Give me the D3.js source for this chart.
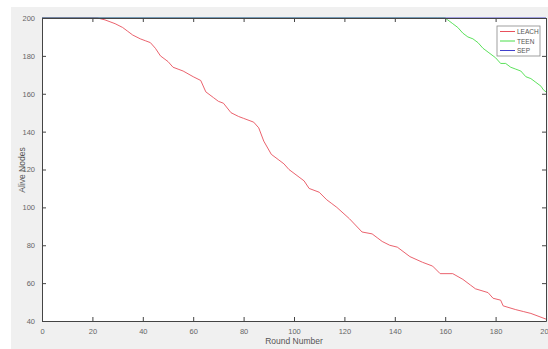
<!DOCTYPE html>
<html>
<head>
<meta charset="utf-8">
<script src="https://cdn.jsdelivr.net/npm/d3@7"></script>
<style>
  body { margin: 0; background: #fff; }
  text { font-family: "Liberation Sans", Arial, sans-serif; }
</style>
</head>
<body>
<div id="viz"></div>
<script>
const width = 548;
const height = 349;
const margin = {top: 18, right: 2, bottom: 28, left: 42};

// Data
const leachRounds = [0, 22, 25, 27, 29, 32, 34, 36, 39, 41, 43, 45, 47, 50, 52, 54, 56, 60, 63, 65, 68, 70, 72, 75, 78, 80, 84, 86, 88, 91, 94, 96, 98, 102, 104, 106, 110, 113, 115, 117, 122, 127, 131, 133, 135, 138, 141, 146, 151, 155, 158, 163, 167, 170, 172, 177, 179, 182, 183, 188, 191, 194, 200];
const leachAlive  = [200, 200, 199, 198, 197, 195, 193, 191, 189, 188, 187, 184, 180, 177, 174, 173, 172, 169, 167, 161, 158, 156, 155, 150, 148, 147, 145, 142, 135, 128, 125, 123, 120, 116, 114, 110, 108, 104, 102, 100, 94, 87, 86, 84, 82, 80, 79, 74, 71, 69, 65, 65, 62, 59, 57, 55, 52, 51, 48, 46, 45, 44, 41];
const teenRounds  = [0, 157, 160, 161, 163, 165, 167, 169, 171, 173, 175, 177, 180, 182, 184, 186, 188, 190, 192, 194, 196, 198, 199, 200];
const teenAlive   = [200, 200, 200, 199, 197, 195, 192, 190, 189, 187, 184, 182, 179, 176, 176, 174, 173, 172, 169, 168, 166, 164, 162, 161];
const sepRounds   = [0, 200];
const sepAlive    = [200, 200];

const xTicks = [0, 20, 40, 60, 80, 100, 120, 140, 160, 180, 200];
const yTicks = [40, 60, 80, 100, 120, 140, 160, 180, 200];

const series = [
  { label: 'LEACH', color: '#e8505c', rounds: leachRounds, values: leachAlive },
  { label: 'TEEN', color: '#4ade4a', rounds: teenRounds, values: teenAlive },
  { label: 'SEP', color: '#4040cc', rounds: sepRounds, values: sepAlive },
];

const scaleX = d3.scaleLinear()
  .domain([0, 200])
  .range([margin.left, width - margin.right]);

const scaleY = d3.scaleLinear()
  .domain([40, 200])
  .range([height - margin.bottom, margin.top]);

const svg = d3.select('#viz')
  .append('svg')
    .attr('width', width)
    .attr('height', height);

// Figure background (grey window)
svg.append('rect')
  .attr('x', 11)
  .attr('y', 7)
  .attr('width', width - 11)
  .attr('height', height - 7)
  .attr('fill', '#f0f0f0');

// Axes background
svg.append('rect')
  .attr('x', margin.left)
  .attr('y', margin.top)
  .attr('width', width - margin.left - margin.right)
  .attr('height', height - margin.top - margin.bottom)
  .attr('fill', '#fff');

// Lines
const line = d3.line()
  .x(d => scaleX(d[0]))
  .y(d => scaleY(d[1]));

svg.append('g')
  .selectAll('path')
  .data(series)
  .join('path')
    .attr('d', d => line(d.rounds.map((r, i) => [r, d.values[i]])))
    .attr('fill', 'none')
    .attr('stroke', d => d.color)
    .attr('stroke-width', 0.9);

// Axes, ticks inward, box on
const axisColor = '#444';
const tickLen = 4;

const axisBottom = d3.axisBottom(scaleX)
  .tickValues(xTicks)
  .tickSizeInner(-tickLen)
  .tickSizeOuter(0)
  .tickPadding(8);
const xAxis = svg.append('g')
  .attr('transform', `translate(0,${height - margin.bottom})`)
  .call(axisBottom);

const axisTop = d3.axisTop(scaleX)
  .tickValues(xTicks)
  .tickSizeInner(-tickLen)
  .tickSizeOuter(0)
  .tickFormat('');
const xAxisTop = svg.append('g')
  .attr('transform', `translate(0,${margin.top})`)
  .call(axisTop);

const axisLeft = d3.axisLeft(scaleY)
  .tickValues(yTicks)
  .tickSizeInner(-tickLen)
  .tickSizeOuter(0)
  .tickPadding(7);
const yAxis = svg.append('g')
  .attr('transform', `translate(${margin.left},0)`)
  .call(axisLeft);

const axisRight = d3.axisRight(scaleY)
  .tickValues(yTicks)
  .tickSizeInner(-tickLen)
  .tickSizeOuter(0)
  .tickFormat('');
const yAxisRight = svg.append('g')
  .attr('transform', `translate(${width - margin.right},0)`)
  .call(axisRight);

[xAxis, xAxisTop, yAxis, yAxisRight].forEach(g => {
  g.select('.domain').attr('stroke', axisColor);
  g.selectAll('.tick line').attr('stroke', axisColor);
  g.selectAll('.tick text')
    .attr('fill', '#666')
    .style('font-size', '7.5px');
});

// Axis labels
svg.append('text')
  .attr('x', 294)
  .attr('y', 344)
  .attr('text-anchor', 'middle')
  .attr('fill', '#555')
  .style('font-size', '8.5px')
  .text('Round Number');

svg.append('text')
  .attr('text-anchor', 'middle')
  .attr('transform', `translate(25, 170) rotate(270)`)
  .attr('fill', '#555')
  .style('font-size', '8.5px')
  .text('Alive Nodes');

// Legend
const legend = svg.append('g')
  .attr('transform', 'translate(497, 26)');
legend.append('rect')
  .attr('width', 43)
  .attr('height', 30)
  .attr('fill', '#fff')
  .attr('stroke', '#888')
  .attr('stroke-width', 0.8);
const legendItems = legend.selectAll('g')
  .data(series)
  .join('g')
    .attr('transform', (d, i) => `translate(0, ${5.5 + i * 9.5})`);
legendItems.append('line')
  .attr('x1', 3)
  .attr('x2', 18)
  .attr('stroke', d => d.color);
legendItems.append('text')
  .attr('x', 20)
  .attr('y', 2.5)
  .attr('fill', '#555')
  .style('font-size', '6.5px')
  .text(d => d.label);
</script>
</body>
</html>
